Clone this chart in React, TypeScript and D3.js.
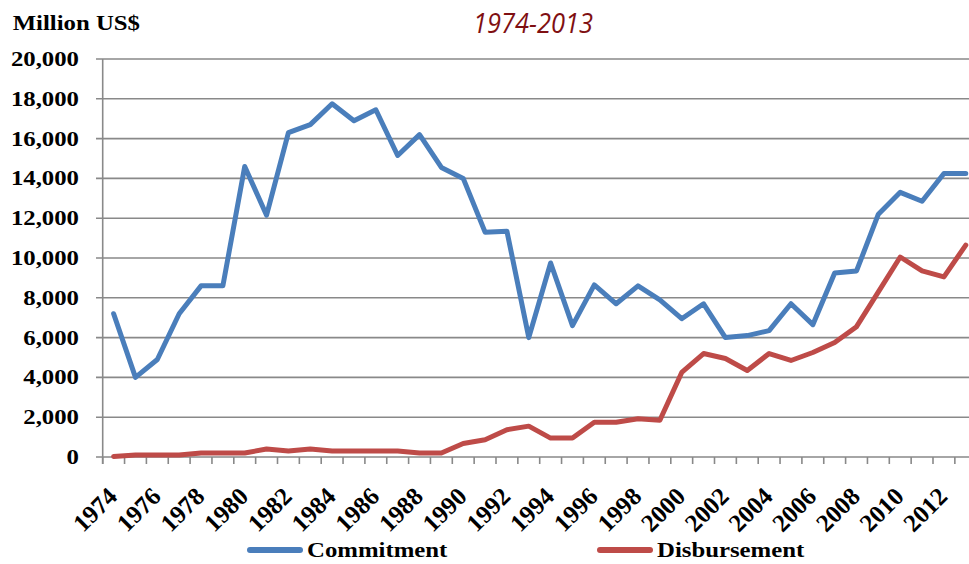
import React from "react";
import * as d3 from "d3";

const years: number[] = [
  1974, 1975, 1976, 1977, 1978, 1979, 1980, 1981, 1982, 1983,
  1984, 1985, 1986, 1987, 1988, 1989, 1990, 1991, 1992, 1993,
  1994, 1995, 1996, 1997, 1998, 1999, 2000, 2001, 2002, 2003,
  2004, 2005, 2006, 2007, 2008, 2009, 2010, 2011, 2012, 2013,
];

const commitment: number[] = [
  7200, 4000, 4900, 7200, 8600, 8600, 14600, 12150, 16300, 16700,
  17750, 16900, 17450, 15150, 16200, 14550, 14000, 11300, 11350, 6000,
  9750, 6600, 8650, 7700, 8600, 7900, 6950, 7700, 6000, 6100,
  6350, 7700, 6650, 9250, 9350, 12200, 13300, 12850, 14250, 14250,
];

const disbursement: number[] = [
  30, 100, 100, 100, 200, 200, 200, 400, 300, 400,
  300, 300, 300, 300, 200, 200, 680, 870, 1370, 1550,
  950, 950, 1750, 1750, 1920, 1850, 4250, 5200, 4950, 4350,
  5200, 4850, 5250, 5750, 6550, 8300, 10050, 9350, 9050, 10650,
];

const yTicks: number[] = [0, 2000, 4000, 6000, 8000, 10000, 12000, 14000, 16000, 18000, 20000];
const xLabelYears: number[] = years.filter((y) => (y - 1974) % 2 === 0);

const seriesNames = ["Commitment", "Disbursement"];
const seriesColors = ["#4A7EBB", "#BE4B48"];

const W = 969;
const H = 564;
const SX = 1.18; // horizontal stretch of the source rendering
const serif = "'Liberation Serif', 'Times New Roman', serif";

export default function App() {
  const x = d3.scaleBand<number>().domain(years).range([102.7, 976.7]).paddingInner(0).paddingOuter(0);
  const y = d3.scaleLinear().domain([0, 20000]).range([457, 59]);
  const cx = (yr: number) => (x(yr) as number) + x.bandwidth() / 2;
  const fmt = d3.format(",");

  const line = d3
    .line<number>()
    .x((_, i) => cx(years[i]))
    .y((v) => y(v));

  const series = [commitment, disbursement];
  const boundaries = years.map((yr) => x(yr) as number).concat([976.7]);

  return (
    <svg
      width={W}
      height={H}
      style={{ position: "absolute", left: 0, top: 0, display: "block", background: "#fff" }}
    >
      {/* gridlines */}
      {yTicks.map((t) => (
        <line key={"g" + t} x1={96} x2={W} y1={y(t)} y2={y(t)} stroke="#898989" strokeWidth={1.6} />
      ))}
      {/* y axis line */}
      <line x1={102.7} x2={102.7} y1={y(20000)} y2={464} stroke="#898989" strokeWidth={1.6} />
      {/* x ticks */}
      {boundaries.map((b, i) => (
        <line key={"xt" + i} x1={b} x2={b} y1={y(0)} y2={464} stroke="#898989" strokeWidth={1.6} />
      ))}
      {/* y labels */}
      {yTicks.map((t) => (
        <g key={"yl" + t} transform={`translate(79,${y(t) + 7}) scale(${SX},1)`}>
          <text textAnchor="end" fontFamily={serif} fontWeight="bold" fontSize={21} fill="#000">
            {fmt(t)}
          </text>
        </g>
      ))}
      {/* x labels */}
      {xLabelYears.map((yr) => (
        <text
          key={"xl" + yr}
          transform={`translate(${cx(yr) + 5},${498}) rotate(-45)`}
          textAnchor="end"
          fontFamily={serif}
          fontWeight="bold"
          fontSize={25}
          fill="#000"
        >
          {yr}
        </text>
      ))}
      {/* lines */}
      {series.map((s, i) => (
        <path
          key={"s" + i}
          d={line(s) || ""}
          fill="none"
          stroke={seriesColors[i]}
          strokeWidth={5}
          strokeLinejoin="round"
          strokeLinecap="round"
        />
      ))}
      {/* title */}
      <text
        x={533}
        y={33}
        textAnchor="middle"
        fontFamily="'Open Sans', 'Liberation Sans', sans-serif"
        fontStyle="italic"
        fontSize={27}
        fill="#7F0F12"
        textLength={120}
        lengthAdjust="spacingAndGlyphs"
      >
        1974-2013
      </text>
      {/* unit label */}
      <g transform={`translate(12.7,30) scale(${SX},1)`}>
        <text fontFamily={serif} fontWeight="bold" fontSize={21} fill="#000">
          Million US$
        </text>
      </g>
      {/* legend */}
      {seriesNames.map((n, i) => {
        const lx = i === 0 ? 248 : 598;
        return (
          <g key={"lg" + i}>
            <line x1={lx + 2} x2={lx + 52} y1={550} y2={550} stroke={seriesColors[i]} strokeWidth={6} strokeLinecap="round" />
            <g transform={`translate(${lx + 59},556.5) scale(${SX},1)`}>
              <text fontFamily={serif} fontWeight="bold" fontSize={21} fill="#000">
                {n}
              </text>
            </g>
          </g>
        );
      })}
    </svg>
  );
}
